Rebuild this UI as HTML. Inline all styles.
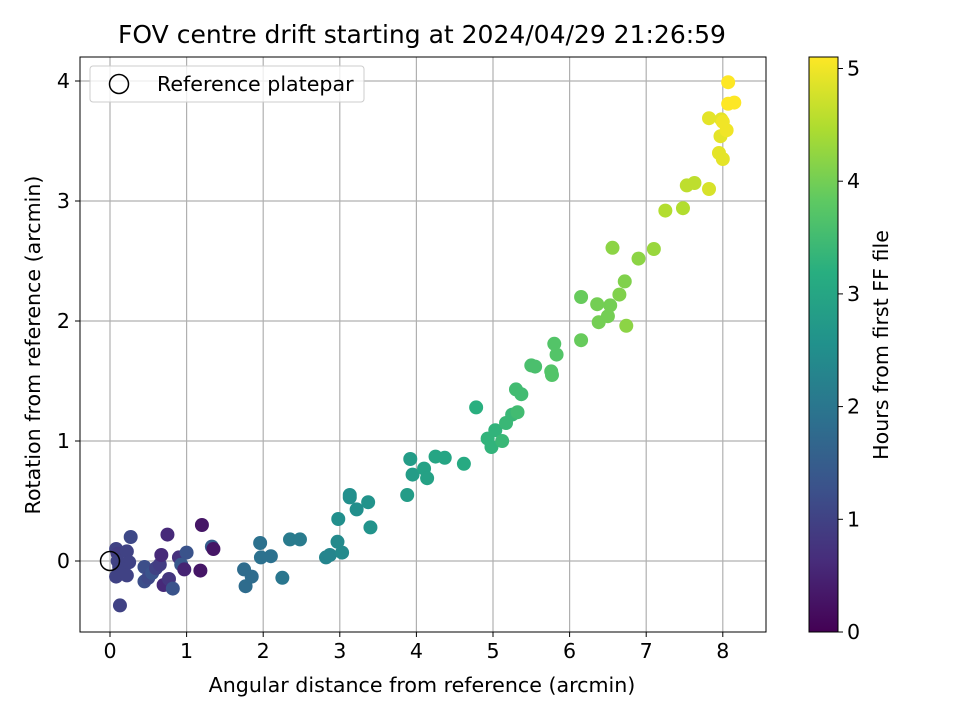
<!DOCTYPE html>
<html><head><meta charset="utf-8"><style>
body{margin:0;background:#fff;font-family:"DejaVu Sans","Liberation Sans",sans-serif}
svg text{font-family:"DejaVu Sans","Liberation Sans",sans-serif;fill:#000}
</style></head><body>
<svg id="c" width="960" height="720" viewBox="0 0 960 720">
<defs><linearGradient id="vg" x1="0" y1="1" x2="0" y2="0">
<stop offset="0" stop-color="#440154"/><stop offset="0.125" stop-color="#472d7b"/><stop offset="0.25" stop-color="#3b528b"/><stop offset="0.375" stop-color="#2c728e"/><stop offset="0.5" stop-color="#21918c"/><stop offset="0.625" stop-color="#28ae80"/><stop offset="0.75" stop-color="#5ec962"/><stop offset="0.875" stop-color="#addc30"/><stop offset="1" stop-color="#fde725"/></linearGradient></defs>
<text x="422" y="43" font-size="25" text-anchor="middle">FOV centre drift starting at 2024/04/29 21:26:59</text>
<g id="grid"></g><g id="pts"></g>
<rect x="80" y="57" width="686" height="575" fill="none" stroke="#000" stroke-width="1"/>
<g id="ticks"></g>
<text x="422" y="692" font-size="20.6" text-anchor="middle">Angular distance from reference (arcmin)</text>
<text transform="translate(40,345) rotate(-90)" font-size="20.6" text-anchor="middle">Rotation from reference (arcmin)</text>
<g>
<rect x="90" y="66" width="274" height="36" rx="3" fill="#fff" fill-opacity="0.8" stroke="#ccc"/>
<circle cx="119" cy="84" r="9.5" fill="none" stroke="#000" stroke-width="1.5"/>
<text x="157" y="91" font-size="20.6">Reference platepar</text></g>
<rect x="809" y="57" width="29" height="575" fill="url(#vg)" stroke="#000" stroke-width="1"/>
<g id="cbt"></g>
<text transform="translate(888,345) rotate(-90)" font-size="20.6" text-anchor="middle">Hours from first FF file</text>
</svg>
<script>
const xTicks=[0,1,2,3,4,5,6,7,8];
const yTicks=[0,1,2,3,4];
const cTicks=[0,1,2,3,4,5];
const xs=[0.08,0.1,0.12,0.08,0.22,0.27,0.25,0.22,0.13,0.45,0.45,0.5,0.55,0.6,0.65,0.67,0.75,0.7,0.77,0.82,0.9,0.93,0.97,1.0,1.18,1.2,1.33,1.35,0.1,
1.75,1.77,1.85,1.96,1.97,2.1,2.25,2.35,2.48,2.82,2.87,2.97,2.98,3.03,3.13,3.13,3.22,3.37,3.4,3.88,3.92,3.95,4.1,4.14,4.25,4.37,4.62,4.78,4.93,4.98,5.03,5.12,5.17,5.25,5.3,5.32,5.37,5.5,5.55,5.76,5.77,5.8,5.83,6.15,6.15,6.36,6.38,6.5,6.53,6.56,6.65,6.72,6.74,6.9,7.1,7.25,7.48,7.53,7.63,7.82,7.82,7.95,7.98,7.97,8.0,8.05,8.0,8.07,8.07,8.15];
const ys=[0.1,0.06,-0.05,-0.13,0.08,0.2,-0.01,-0.12,-0.37,-0.05,-0.17,-0.14,-0.1,-0.06,-0.03,0.05,0.22,-0.2,-0.15,-0.23,0.03,-0.03,-0.07,0.07,-0.08,0.3,0.12,0.1,0.0,
-0.07,-0.21,-0.13,0.15,0.03,0.04,-0.14,0.18,0.18,0.03,0.05,0.16,0.35,0.07,0.55,0.53,0.43,0.49,0.28,0.55,0.85,0.72,0.77,0.69,0.87,0.86,0.81,1.28,1.02,0.95,1.09,1.0,1.15,1.22,1.43,1.24,1.39,1.63,1.62,1.58,1.55,1.81,1.72,2.2,1.84,2.14,1.99,2.04,2.13,2.61,2.22,2.33,1.96,2.52,2.6,2.92,2.94,3.13,3.15,3.1,3.69,3.4,3.68,3.54,3.35,3.59,3.66,3.99,3.81,3.82];
const hours=[1.0,0.9,1.0,1.0,1.0,1.1,1.0,1.0,1.0,1.2,1.2,1.1,1.3,1.0,0.9,0.6,0.6,0.6,0.8,1.3,0.7,1.4,0.5,1.3,0.3,0.3,1.5,0.3,1.0,
1.8,1.8,1.8,1.9,1.9,1.9,2.0,2.1,2.1,2.3,2.3,2.4,2.5,2.4,2.5,2.5,2.5,2.6,2.6,2.8,2.8,2.8,2.9,2.9,3.0,3.0,3.1,3.2,3.3,3.3,3.3,3.4,3.4,3.4,3.5,3.5,3.5,3.6,3.6,3.7,3.7,3.7,3.7,3.9,3.9,4.0,4.0,4.0,4.0,4.2,4.1,4.1,4.2,4.2,4.3,4.5,4.5,4.6,4.6,4.8,4.9,4.9,4.9,4.9,4.9,5.0,5.0,5.1,5.1,5.1];
const X=v=>110+v*76.6, Y=v=>561-v*120, C=v=>632-v*112.7, HMAX=5.1;
const V=[[68,1,84],[71,45,123],[59,82,139],[44,114,142],[33,145,140],[40,174,128],[94,201,98],[173,220,48],[253,231,37]];
function vir(t){t=Math.max(0,Math.min(1,t))*8;const i=Math.min(7,Math.floor(t)),f=t-i;return 'rgb('+V[i].map((c,k)=>Math.round(c+(V[i+1][k]-c)*f)).join(',')+')';}
const NS='http://www.w3.org/2000/svg';
function mk(p,tag,a){const e=document.createElementNS(NS,tag);for(const k in a)e.setAttribute(k,a[k]);p.appendChild(e);return e;}
const g=document.getElementById('grid'),tk=document.getElementById('ticks'),pts=document.getElementById('pts'),cb=document.getElementById('cbt');
xTicks.forEach(v=>{const x=X(v);
const l=mk(g,'line',{x1:x,x2:x,y1:57,y2:632,stroke:'#b0b0b0','stroke-width':1.2});


mk(tk,'line',{x1:x,x2:x,y1:632,y2:637,stroke:'#000'});
const t=mk(tk,'text',{x:x,y:658,'font-size':20.6,'text-anchor':'middle'});t.textContent=v;

});
yTicks.forEach(v=>{const y=Y(v);
const l=mk(g,'line',{x1:80,x2:766,y1:y,y2:y,stroke:'#b0b0b0','stroke-width':1.2});


mk(tk,'line',{x1:75,x2:80,y1:y,y2:y,stroke:'#000'});
const t=mk(tk,'text',{x:70,y:y+7,'font-size':20.6,'text-anchor':'end'});t.textContent=v;

});
cTicks.forEach(v=>{const y=C(v);
mk(cb,'line',{x1:838,x2:843,y1:y,y2:y,stroke:'#000'});
const t=mk(cb,'text',{x:847,y:y+7,'font-size':20.6});t.textContent=v;

});
xs.forEach((v,i)=>{const c=mk(pts,'circle',{cx:X(v),cy:Y(ys[i]),r:7,fill:vir(hours[i]/HMAX)});

});
const r=mk(pts,'circle',{cx:X(0),cy:Y(0),r:9.5,fill:'none',stroke:'#000','stroke-width':1.5});


</script>
</body></html>
